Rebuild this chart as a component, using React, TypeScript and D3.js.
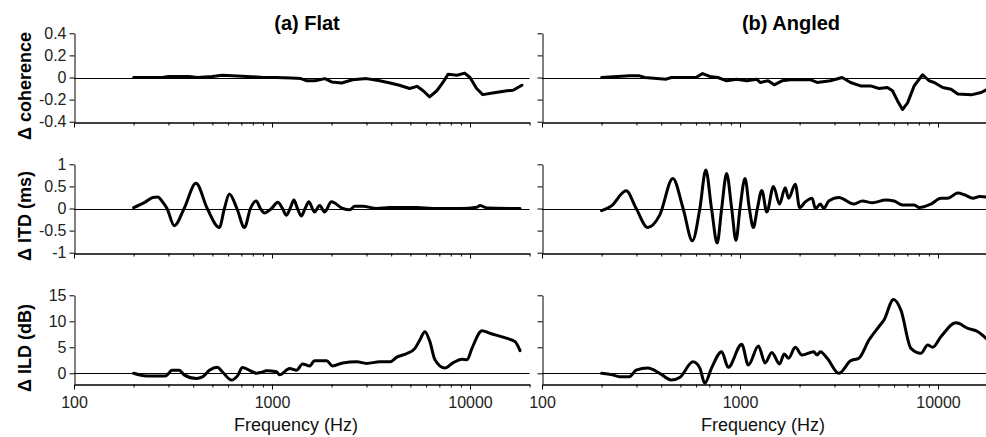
import React, { useEffect, useRef } from "react";
import * as d3 from "d3";

// frequency axis
const freqDomain = [100, 20000];
const majorTicks = [100, 1000, 10000];
const majorLabels = ["100", "1000", "10000"];
const minorTicks = [200, 300, 400, 500, 600, 700, 800, 900, 2000, 3000, 4000, 5000, 6000, 7000, 8000, 9000, 20000];

const coherenceTicks = [-0.4, -0.2, 0, 0.2, 0.4];
const coherenceLabels = ["-0.4", "-0.2", "0", "0.2", "0.4"];
const itdTicks = [-1, -0.5, 0, 0.5, 1];
const itdLabels = ["-1", "-0.5", "0", "0.5", "1"];
const ildTicks = [0, 5, 10, 15];
const ildLabels = ["0", "5", "10", "15"];

const columnTitles = ["(a) Flat", "(b) Angled"];
const rowTitles = ["\u0394 coherence", "\u0394 ITD (ms)", "\u0394 ILD (dB)"];

// [frequency Hz, value]
const flatCoherence = [
  [200, 0], [280, 0], [300, 0.01], [380, 0.01], [420, 0], [500, 0.01], [560, 0.02], [630, 0.015],
  [750, 0.01], [900, 0], [1050, 0], [1250, -0.005], [1400, -0.01], [1500, -0.03], [1650, -0.03],
  [1850, -0.01], [2000, -0.04], [2250, -0.05], [2550, -0.02], [3000, -0.01], [3500, -0.03],
  [3950, -0.05], [4400, -0.07], [4950, -0.1], [5400, -0.08], [5800, -0.12], [6250, -0.175],
  [6800, -0.12], [7300, -0.045], [7750, 0.03], [8600, 0.02], [9400, 0.04], [10000, 0],
  [10800, -0.1], [11600, -0.155], [13000, -0.14], [15400, -0.12], [16500, -0.115], [18300, -0.07],
];

const flatItd = [
  [200, 0.02], [230, 0.15], [250, 0.25], [265, 0.26], [280, 0.15], [295, 0], [321, -0.39],
  [360, 0], [413, 0.57], [471, 0], [542, -0.43], [575, 0], [609, 0.33], [665, 0], [726, -0.43],
  [778, 0], [832, 0.17], [874, 0], [916, -0.1], [994, 0], [1070, 0.14], [1130, 0], [1180, -0.15],
  [1235, 0], [1290, 0.19], [1345, 0], [1405, -0.17], [1470, 0], [1535, 0.15], [1640, -0.08],
  [1740, 0.07], [1845, -0.08], [1995, 0.15], [2280, 0], [2470, -0.03], [2620, 0.05], [2870, 0.05],
  [3380, 0], [3940, 0.02], [5390, 0.02], [6500, 0], [9000, 0], [10840, 0.03], [11240, 0.07],
  [12200, 0.01], [17900, 0],
];

const flatIld = [
  [200, 0], [232, -0.5], [290, -0.5], [313, 0.6], [340, 0.6], [360, -0.3], [415, -1.0], [445, -0.7],
  [483, 0.6], [530, 1.15], [561, 0.3], [624, -1.3], [669, -0.5], [709, 1.1], [796, 0.3], [835, 0],
  [885, 0.2], [938, 0.5], [1054, 0.3], [1091, -0.3], [1227, 0.9], [1330, 0.6], [1427, 1.8],
  [1549, 1.4], [1640, 2.4], [1887, 2.4], [2024, 1.4], [2275, 2.0], [2680, 2.2], [3008, 1.9],
  [3500, 2.2], [3936, 2.2], [4270, 3.1], [4800, 3.8], [5270, 4.8], [5580, 6.4], [5920, 8.0],
  [6270, 6.1], [6650, 2.6], [7470, 1.0], [8200, 2.0], [9100, 2.7], [9660, 2.6], [10230, 4.8],
  [11500, 8.2], [12600, 7.7], [15400, 6.7], [16900, 6.1], [17900, 4.35],
];

const angledCoherence = [
  [200, 0], [276, 0.015], [311, 0.015], [330, 0], [424, -0.015], [450, 0], [600, 0], [647, 0.036],
  [704, 0.01], [773, 0], [856, -0.03], [962, -0.015], [1081, -0.03], [1216, -0.015], [1264, -0.045],
  [1387, -0.03], [1489, -0.066], [1629, -0.03], [1795, -0.02], [2266, -0.02], [2450, -0.045],
  [2862, -0.03], [3283, 0], [3617, -0.045], [4063, -0.076], [4567, -0.076], [5035, -0.1],
  [5554, -0.09], [5890, -0.12], [6240, -0.21], [6617, -0.29], [7018, -0.23], [7580, -0.076],
  [8362, 0.025], [9036, -0.03], [9573, -0.045], [10560, -0.09], [11640, -0.106], [12590, -0.15],
  [14720, -0.157], [16530, -0.136], [17740, -0.106], [18300, -0.1],
];

const angledItd = [
  [200, -0.05], [223, 0.05], [266, 0.4], [299, 0], [342, -0.43], [393, -0.15], [458, 0.68],
  [516, 0], [575, -0.73], [627, 0], [672, 0.87], [718, 0], [767, -0.78], [808, 0], [856, 0.79],
  [908, 0], [954, -0.72], [1000, 0], [1060, 0.68], [1115, 0], [1168, -0.43], [1224, 0],
  [1289, 0.41], [1366, -0.08], [1476, 0.5], [1583, 0.1], [1692, 0.47], [1759, 0.23], [1902, 0.55],
  [2000, 0.02], [2138, 0.15], [2312, 0.23], [2404, 0], [2547, 0.1], [2649, 0], [2807, 0.17],
  [3157, 0.25], [3760, 0.1], [4147, 0.17], [4663, 0.13], [5449, 0.19], [6001, 0.17], [6617, 0.08],
  [7580, 0.08], [8038, 0.02], [9210, 0.1], [10350, 0.23], [11190, 0.23], [12590, 0.35],
  [13610, 0.31], [15010, 0.23], [16230, 0.27], [17740, 0.26], [18300, 0.26],
];

const angledIld = [
  [200, 0], [227, -0.3], [246, -0.65], [276, -0.65], [299, 0.6], [342, 1.0], [393, 0], [450, -1.3],
  [496, -0.8], [579, 2.2], [627, 1.0], [664, -1.9], [718, 1.0], [808, 4.15], [872, 1.15],
  [1020, 5.6], [1102, 1.6], [1239, 5.25], [1339, 2.0], [1448, 4.0], [1583, 1.8], [1673, 3.7],
  [1759, 2.9], [1902, 5.0], [2057, 3.5], [2356, 4.15], [2450, 3.5], [2547, 4.15], [2756, 2.9],
  [3157, 0], [3617, 2.4], [3985, 2.9], [4480, 6.4], [5035, 9.0], [5337, 10.25], [5960, 14.2],
  [6490, 12.2], [7300, 4.8], [8200, 3.85], [8870, 5.45], [9400, 5.0], [10350, 7.05], [12340, 9.7],
  [14150, 8.65], [15900, 8.0], [17740, 6.5], [18300, 6.0],
];

const W = 986;
const H = 437;
const FONT = "'Liberation Sans', Arial, Helvetica, sans-serif";

export default function App() {
  const svgRef = useRef<SVGSVGElement | null>(null);

  useEffect(() => {
    const svg = d3.select(svgRef.current);
    svg.selectAll("*").remove();

    const colX = [74, 542];
    const plotW = 198 * Math.log10(freqDomain[1] / freqDomain[0]);

    const rows = [
      { top: 33.3, bottom: 121.7, domain: [-0.4, 0.4], ticks: coherenceTicks, labels: coherenceLabels, titleY: 86, curve: d3.curveLinear, data: [flatCoherence, angledCoherence] },
      { top: 164.3, bottom: 252.7, domain: [-1, 1], ticks: itdTicks, labels: itdLabels, titleY: 216, curve: d3.curveMonotoneX, data: [flatItd, angledItd] },
      { top: 295.3, bottom: 383.7, domain: [-2, 15], ticks: ildTicks, labels: ildLabels, titleY: 348, curve: d3.curveMonotoneX, data: [flatIld, angledIld] },
    ];

    rows.forEach((row, ri) => {
      const y = d3.scaleLinear().domain(row.domain).range([row.bottom, row.top]);

      // row title
      svg.append("text")
        .attr("transform", `translate(31, ${row.titleY}) rotate(-90)`)
        .attr("text-anchor", "middle")
        .style("font-family", FONT)
        .style("font-size", "18px")
        .style("font-weight", "bold")
        .attr("fill", "#000")
        .text(rowTitles[ri]);

      colX.forEach((x0, ci) => {
        const x = d3.scaleLog().domain(freqDomain).range([x0, x0 + plotW]);
        const g = svg.append("g");

        // zero line
        g.append("line")
          .attr("x1", x0).attr("x2", x0 + plotW)
          .attr("y1", Math.round(y(0)) + 0.5).attr("y2", Math.round(y(0)) + 0.5)
          .attr("stroke", "#000").attr("stroke-width", 1);

        // y axis
        const yAxis = g.append("g")
          .attr("transform", `translate(${Math.round(x0) + 0.5},0)`)
          .call(
            d3.axisLeft(y)
              .tickValues(row.ticks)
              .tickSize(5)
              .tickSizeOuter(0)
              .tickPadding(3)
              .tickFormat((d, i) => (ci === 0 ? row.labels[i] : ""))
          );
        yAxis.selectAll("text").style("font-family", FONT).style("font-size", "16px").attr("fill", "#222");
        yAxis.selectAll("path, line").attr("stroke", "#000");

        // x axis, minor then major ticks
        const xMinor = g.append("g")
          .attr("transform", `translate(0,${Math.round(row.bottom) + 0.5})`)
          .call(d3.axisBottom(x).tickValues(minorTicks).tickSize(3).tickSizeOuter(0).tickFormat(() => ""));
        xMinor.selectAll("path, line").attr("stroke", "#000");

        const xMajor = g.append("g")
          .attr("transform", `translate(0,${Math.round(row.bottom) + 0.5})`)
          .call(
            d3.axisBottom(x)
              .tickValues(majorTicks)
              .tickSize(5)
              .tickSizeOuter(0)
              .tickPadding(7)
              .tickFormat((d, i) => (ri === 2 ? majorLabels[i] : ""))
          );
        xMajor.selectAll("text").style("font-family", FONT).style("font-size", "16px").attr("fill", "#222");
        xMajor.selectAll("path, line").attr("stroke", "#000");

        // data curve
        const line = d3.line<number[]>()
          .x((d) => x(d[0]))
          .y((d) => y(d[1]))
          .curve(row.curve);
        g.append("path")
          .datum(row.data[ci])
          .attr("d", line)
          .attr("fill", "none")
          .attr("stroke", "#000")
          .attr("stroke-width", 3)
          .attr("stroke-linejoin", "round")
          .attr("stroke-linecap", "round");

        if (ri === 0) {
          svg.append("text")
            .attr("x", ci === 0 ? 307 : 791)
            .attr("y", 30)
            .attr("text-anchor", "middle")
            .style("font-family", FONT)
            .style("font-size", "20px")
            .style("font-weight", "bold")
            .attr("fill", "#000")
            .text(columnTitles[ci]);
        }
        if (ri === 2) {
          svg.append("text")
            .attr("x", ci === 0 ? 296 : 763)
            .attr("y", 431)
            .attr("text-anchor", "middle")
            .style("font-family", FONT)
            .style("font-size", "18px")
            .attr("fill", "#111")
            .text("Frequency (Hz)");
        }
      });
    });
  }, []);

  return (
    <svg
      ref={svgRef}
      width={W}
      height={H}
      style={{ position: "absolute", left: 0, top: 0, background: "#fff", display: "block" }}
    />
  );
}
